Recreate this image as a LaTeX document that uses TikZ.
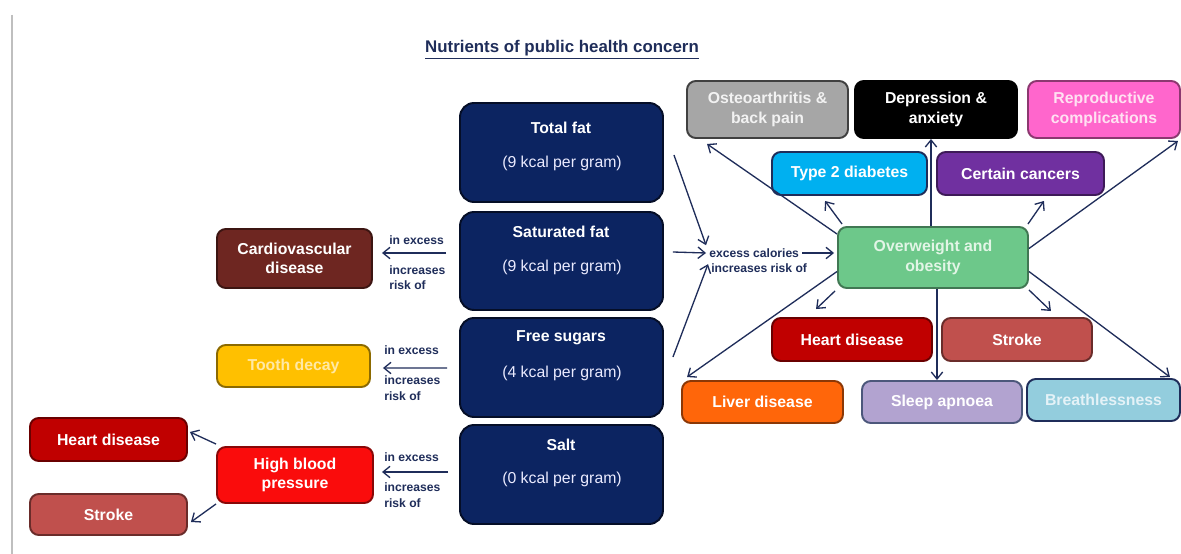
\documentclass[tikz,border=0pt]{standalone}
\usepackage{fontspec}
\setmainfont{Liberation Sans}
\usetikzlibrary{arrows.meta,calc}
\definecolor{navy}{RGB}{31,45,90}
\definecolor{nbox}{RGB}{12,36,97}
\definecolor{ccvd}{RGB}{110,38,33}
\definecolor{ctooth}{RGB}{255,192,0}
\definecolor{ttooth}{RGB}{255,233,166}
\definecolor{chbp}{RGB}{250,12,12}
\definecolor{cheart}{RGB}{192,0,0}
\definecolor{cstroke}{RGB}{192,80,77}
\definecolor{costeo}{RGB}{166,166,166}
\definecolor{cdep}{RGB}{0,0,0}
\definecolor{crep}{RGB}{255,102,204}
\definecolor{trep}{RGB}{255,225,242}
\definecolor{ctype}{RGB}{0,176,240}
\definecolor{ccanc}{RGB}{112,48,160}
\definecolor{cow}{RGB}{109,200,138}
\definecolor{tow}{RGB}{226,245,230}
\definecolor{cliver}{RGB}{255,102,10}
\definecolor{csleep}{RGB}{178,163,208}
\definecolor{cbreath}{RGB}{147,205,221}
\definecolor{tbreath}{RGB}{228,242,247}
\newcommand{\mkbox}[7]{\node[#6, minimum width={(#4-#2)*0.02cm}, minimum height={(#5-#3)*0.02cm}] (#1) at ({(#2+#4)/2},{(#3+#5)/2}) {#7};}
\tikzset{
  dbox/.style={rounded corners=5pt, fill=#1, draw=#1!55!black, line width=1.1pt, inner sep=1pt, align=center,
    font=\bfseries\fontsize{9}{11}\selectfont, text=white},
  nutbox/.style={rounded corners=8pt, fill=nbox, draw=nbox!40!black, line width=1.1pt},
  ntitle/.style={font=\bfseries\fontsize{9}{11}\selectfont, text=white, inner sep=0},
  nsub/.style={font=\fontsize{9}{11}\selectfont, text=white!92!blue, inner sep=0},
  small/.style={font=\bfseries\fontsize{6.9}{8}\selectfont, text=navy, inner sep=0, anchor=west},
  arr/.style={draw=navy, line width=0.75pt, -{Straight Barb[length=4pt,width=6.5pt]}}
}
\begin{document}
\begin{tikzpicture}[x=0.02cm,y=-0.02cm]
\useasboundingbox (0,0) rectangle (1181,554);
\fill[white] (0,0) rectangle (1181,554);
\draw[black!25, line width=1.2pt] (12,15) -- (12,554);

\node[font=\bfseries\fontsize{9.6}{11}\selectfont, text=navy, inner sep=0] (title) at (562,50) {\underline{Nutrients of public health concern}};

% nutrient boxes
\mkbox{tf}{460}{103}{663}{202}{nutbox}{}
\mkbox{sf}{460}{212}{663}{310}{nutbox}{}
\mkbox{fs}{460}{318}{663}{417}{nutbox}{}
\mkbox{sa}{460}{425}{663}{524}{nutbox}{}
\node[ntitle] (tfA) at (561,128) {Total fat};
\node[nsub] (tfB) at (562,163) {(9 kcal per gram)};
\node[ntitle] (sfA) at (561,232) {Saturated fat};
\node[nsub] (sfB) at (562,267) {(9 kcal per gram)};
\node[ntitle] (fsA) at (561,338) {Free sugars};
\node[nsub] (fsB) at (562,373) {(4 kcal per gram)};
\node[ntitle] (saA) at (561,445) {Salt};
\node[nsub] (saB) at (562,479) {(0 kcal per gram)};

% left outcome boxes
\mkbox{cvd}{217}{229}{372}{288}{dbox=ccvd}{Cardiovascular\\disease}
\mkbox{td}{217}{345}{370}{387}{dbox=ctooth, text=ttooth}{Tooth decay}
\mkbox{hbp}{217}{447}{373}{503}{dbox=chbp}{High blood\\pressure}
\mkbox{hd1}{30}{418}{187}{461}{dbox=cheart}{Heart disease}
\mkbox{st1}{30}{494}{187}{535}{dbox=cstroke}{Stroke}

% small labels left
\node[small] (cvdA) at (389,240) {in excess};
\node[small] (cvdB) at (389,270) {increases};
\node[small] (cvdC) at (389,285) {risk of};
\node[small] (tdA) at (384,350) {in excess};
\node[small] (tdB) at (384,380) {increases};
\node[small] (tdC) at (384,396) {risk of};
\node[small] (hbA) at (384,457) {in excess};
\node[small] (hbB) at (384,487) {increases};
\node[small] (hbC) at (384,503) {risk of};

\draw[arr] ([shift={(-13,-8)}]sf.west) -- ([shift={(9,-5.5)}]cvd.east);
\draw[arr] ([shift={(-12,0.5)}]fs.west) -- ([shift={(12,2)}]td.east);
\draw[arr] ([shift={(-11,-2.5)}]sa.west) -- ([shift={(8,-3)}]hbp.east);
\draw[arr] ([shift={(0,-2)}]hbp.north west) -- ([shift={(2,-7.5)}]hd1.east);
\draw[arr] ([shift={(0,0)}]hbp.south west) -- ([shift={(3,7.5)}]st1.east);

% right boxes
\mkbox{oa}{687}{81}{848}{138}{dbox=costeo, draw=black!75, text=white!95!black}{Osteoarthritis \&\\back pain}
\mkbox{dep}{855}{81}{1017}{138}{dbox=cdep, draw=black}{Depression \&\\anxiety}
\mkbox{rep}{1028}{81}{1180}{138}{dbox=crep, text=trep}{Reproductive\\complications}
\mkbox{t2d}{772}{152}{927}{195}{dbox=ctype, draw=navy}{Type 2 diabetes}
\mkbox{cc}{937}{152}{1104}{195}{dbox=ccanc}{Certain cancers}
\mkbox{ow}{838}{227}{1028}{288}{dbox=cow, draw=cow!60!black, text=tow}{Overweight and\\obesity}
\mkbox{hd2}{772}{318}{932}{361}{dbox=cheart}{Heart disease}
\mkbox{st2}{942}{318}{1092}{361}{dbox=cstroke}{Stroke}
\mkbox{lv}{682}{381}{843}{423}{dbox=cliver}{Liver disease}
\mkbox{sl}{862}{381}{1022}{423}{dbox=csleep, draw=navy!80}{Sleep apnoea}
\mkbox{br}{1027}{379}{1180}{421}{dbox=cbreath, draw=navy, text=tbreath}{Breathlessness}

% excess calories
\node[small] (ec) at (709,253) {excess calories};
\node[small] (ir) at (711,268) {increases risk of};
\draw[arr] ([shift={(10,2.5)}]tf.east) -- ([shift={(-3,-3)}]ec.north west);
\draw[arr] ([shift={(9,-9)}]sf.east) -- ([shift={(-3,0)}]ec.west);
\draw[arr] ([shift={(9,-10.5)}]fs.east) -- ([shift={(-3,1)}]ir.north west);
\draw[arr] ([shift={(3,0)}]ec.east) -- ([shift={(-3,-4.5)}]ow.west);

% overweight arrows
\coordinate (owN) at ([shift={(-2,0)}]ow.north);
\coordinate (owS) at ([shift={(4,0)}]ow.south);
\draw[arr] ([shift={(0,8)}]ow.north west) -- ([shift={(21,5)}]oa.south west);
\draw[arr] ([shift={(5,-2)}]ow.north west) -- ([shift={(54,5)}]t2d.south west);
\draw[arr] (owN) -- (owN |- dep.south);
\draw[arr] ([shift={(-1,-2)}]ow.north east) -- ([shift={(-61,5)}]cc.south east);
\draw[arr] ([shift={(0,-9)}]ow.east) -- ([shift={(-3,2)}]rep.south east);
\draw[arr] ([shift={(-2,2)}]ow.south west) -- ([shift={(45,-8)}]hd2.north west);
\draw[arr] ([shift={(0,14)}]ow.west) -- ([shift={(6,-3)}]lv.north west);
\draw[arr] (owS) -- (owS |- sl.north);
\draw[arr] ([shift={(0,1)}]ow.south east) -- ([shift={(-42,-6)}]st2.north east);
\draw[arr] ([shift={(0,14)}]ow.east) -- ([shift={(-11,-1)}]br.north east);
\end{tikzpicture}
\end{document}
